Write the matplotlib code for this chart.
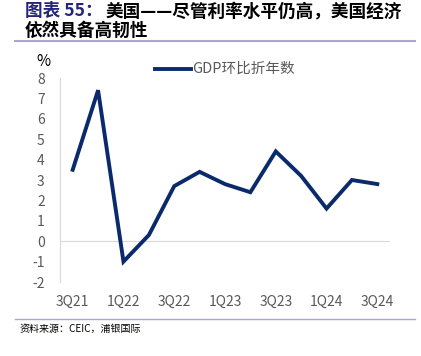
import matplotlib.pyplot as plt
from matplotlib.lines import Line2D

plt.rcParams['font.family'] = ['Noto Sans CJK SC', 'DejaVu Sans']

quarters = ['3Q21', '4Q21', '1Q22', '2Q22', '3Q22', '4Q22', '1Q23', '2Q23',
            '3Q23', '4Q23', '1Q24', '2Q24', '3Q24']
gdp = [3.5, 7.4, -1.0, 0.3, 2.7, 3.4, 2.8, 2.4, 4.4, 3.2, 1.6, 3.0, 2.8]
yticks = list(range(-2, 9))
navy = '#0B2A6B'
grey = '#595959'

fig = plt.figure(figsize=(4.21, 3.56), dpi=100)
ax = fig.add_axes([60/421, 1-282/356, 330/421, 204/356])

x = list(range(len(quarters)))
ax.plot(x, gdp, color=navy, lw=2.8, solid_joinstyle='miter')
ax.axhline(0, color='#D9D9D9', lw=0.8, zorder=0)
ax.set_xlim(-0.5, len(quarters) - 0.5)
ax.set_ylim(-2, 8)
ax.set_yticks(yticks)
ax.set_yticklabels([str(v) for v in yticks], color=grey, fontsize=10)
ax.set_xticks(x[::2])
ax.set_xticklabels(quarters[::2], color=grey, fontsize=10)
ax.tick_params(length=0, pad=11)
ax.tick_params(axis='x', pad=9)
for s in ['top', 'right', 'bottom']:
    ax.spines[s].set_visible(False)
ax.spines['left'].set_color('#D9D9D9')
ax.spines['left'].set_linewidth(0.8)

fig.text(36/421, 1-62/356, '%', fontsize=11, color='black', va='center')

# legend
fig.add_artist(Line2D([155/421, 191/421], [1-69/356, 1-69/356], color=navy, lw=2.8))
fig.text(192/421, 1-69/356, 'GDP环比折年数', fontsize=10.5, color=grey, va='center')

# title
fig.text(25/421, 1-11/356, '图表 55：', fontsize=12.7, fontweight='bold', color='#25257A', va='center')
fig.text(106/421, 1-11/356, '美国——尽管利率水平仍高，美国经济', fontsize=12.7, fontweight='bold', color='black', va='center')
fig.text(25/421, 1-31/356, '依然具备高韧性', fontsize=12.7, fontweight='bold', color='black', va='center')
fig.add_artist(Line2D([15/421, 415/421], [1-41/356, 1-41/356], color='#A8A8CC', lw=1.5))
fig.add_artist(Line2D([15/421, 415/421], [1-319/356, 1-319/356], color='#A8A8CC', lw=1.0))
fig.text(20/421, 1-329/356, '资料来源：CEIC，浦银国际', fontsize=7.2, color='black', va='center')

fig.savefig('out.png', dpi=100)
